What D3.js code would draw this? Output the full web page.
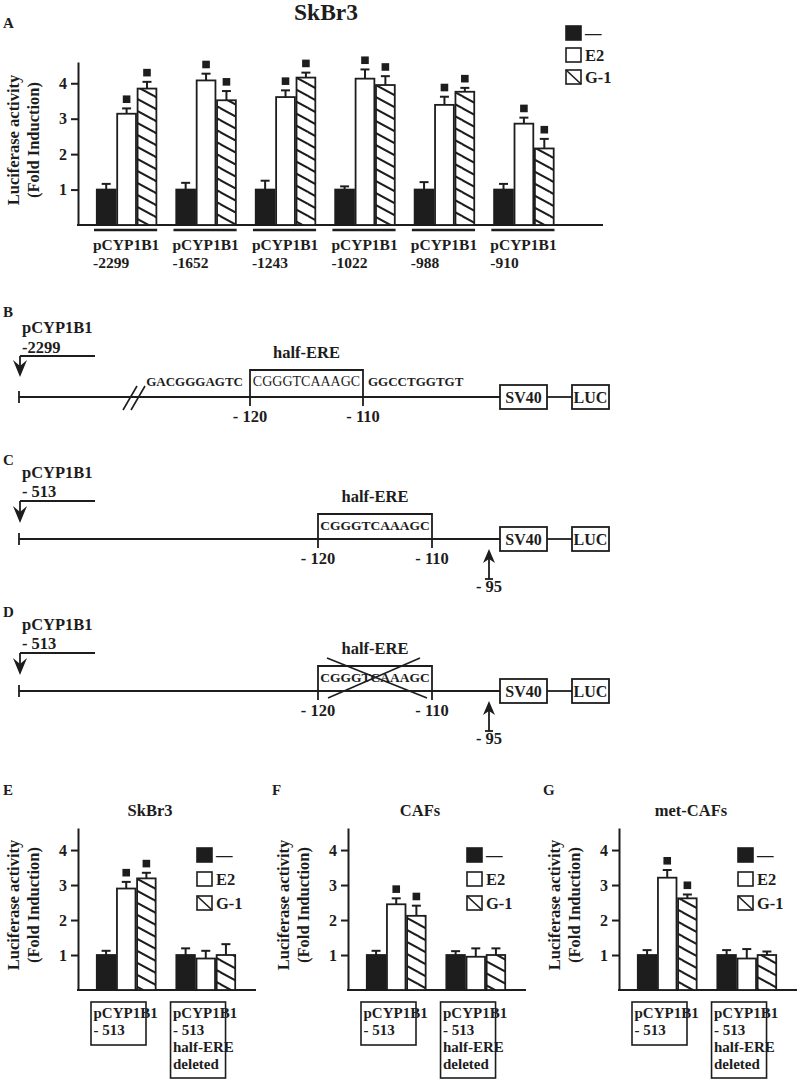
<!DOCTYPE html>
<html>
<head>
<meta charset="utf-8">
<title>pCYP1B1 luciferase</title>
<script src="https://cdn.jsdelivr.net/npm/d3@7"></script>
<style>
  body { margin: 0; background: #fff; }
  svg text { font-family: "Liberation Serif", "Times New Roman", serif; font-weight: bold; fill: #1d1d1d; }
</style>
</head>
<body>
<svg id="fig" width="797" height="1080"></svg>
<script>
// ---- data ----
var treatments = ["—", "E2", "G-1"];
var yTicks = [1, 2, 3, 4];

// panel A (SkBr3, deletion constructs)
var constructsA = ["-2299", "-1652", "-1243", "-1022", "-988", "-910"];
var ctrlA    = [1, 1, 1, 1, 1, 1];
var ctrlErrA = [0.16, 0.19, 0.25, 0.09, 0.21, 0.16];
var e2A      = [3.14, 4.08, 3.61, 4.13, 3.39, 2.86];
var e2ErrA   = [0.15, 0.19, 0.19, 0.26, 0.23, 0.17];
var g1A      = [3.85, 3.52, 4.16, 3.95, 3.76, 2.16];
var g1ErrA   = [0.19, 0.26, 0.14, 0.25, 0.11, 0.27];
var sigA     = [1, 1, 1, 1, 1, 1];

// panels E-G (-513 construct, intact vs half-ERE deleted)
var constructsEFG = [["pCYP1B1", "- 513"], ["pCYP1B1", "- 513", "half-ERE", "deleted"]];
var skbr3Ctrl = [1, 1],    skbr3CtrlErr = [0.12, 0.19];
var skbr3E2   = [2.9, 0.9], skbr3E2Err  = [0.19, 0.22];
var skbr3G1   = [3.19, 1.0], skbr3G1Err = [0.16, 0.31];
var cafsCtrl  = [1, 1],    cafsCtrlErr  = [0.12, 0.11];
var cafsE2    = [2.45, 0.95], cafsE2Err = [0.17, 0.24];
var cafsG1    = [2.12, 1.0], cafsG1Err  = [0.29, 0.19];
var metCtrl   = [1, 1],    metCtrlErr   = [0.14, 0.14];
var metE2     = [3.21, 0.9], metE2Err   = [0.22, 0.27];
var metG1     = [2.62, 1.0], metG1Err   = [0.11, 0.10];
var sigEFG    = [1, 0];

var INK = "#1d1d1d";
var svg = d3.select("#fig");

// hatch pattern for G-1 bars
var defs = svg.append("defs");
var hp = defs.append("pattern").attr("id", "hatch")
    .attr("patternUnits", "userSpaceOnUse").attr("width", 22).attr("height", 12);
hp.append("rect").attr("width", 22).attr("height", 12).attr("fill", "#fff");
hp.append("path").attr("d", "M-22,-12L44,24M0,12L22,24M0,-12L22,0M-22,0L0,12")
    .attr("stroke", INK).attr("stroke-width", 2);

function fillFor(i) { return i === 0 ? INK : (i === 1 ? "#fff" : "url(#hatch)"); }

function txt(g, x, y, s, size, anchor, weight) {
  return g.append("text").attr("x", x).attr("y", y).attr("font-size", size)
    .attr("text-anchor", anchor || "start").style("font-weight", weight || "bold").text(s);
}

function line(g, x1, y1, x2, y2, w) {
  return g.append("line").attr("x1", x1).attr("y1", y1).attr("x2", x2).attr("y2", y2)
    .attr("stroke", INK).attr("stroke-width", w || 2);
}

function yLabel(g, x, yc) {
  txt(g, 0, 0, "Luciferase activity", 16.5, "middle").attr("transform", "translate(" + x + "," + yc + ") rotate(-90)");
  txt(g, 0, 0, "(Fold Induction)", 16.5, "middle").attr("transform", "translate(" + (x + 20) + "," + yc + ") rotate(-90)");
}

function legend(g, x, y, gap) {
  treatments.forEach(function (t, i) {
    var yy = y + i * gap;
    g.append("rect").attr("x", x).attr("y", yy).attr("width", 15).attr("height", 14)
      .attr("fill", i === 0 ? INK : "#fff").attr("stroke", INK).attr("stroke-width", 1.6);
    if (i === 2) line(g, x, yy, x + 15, yy + 14, 1.6);
    txt(g, x + 19, yy + 12.5, t, 16.5);
  });
}

// generic grouped bar chart
function barChart(cfg) {
  var g = svg.append("g");
  var y = d3.scaleLinear().domain([0, cfg.yMax]).range([cfg.base, cfg.top]);
  var x = d3.scaleBand().domain(d3.range(cfg.n)).range([cfg.gx0, cfg.gx1]).paddingInner(cfg.pad).paddingOuter(0);
  var xs = d3.scaleBand().domain(d3.range(3)).range([0, x.bandwidth()]);

  var ax = g.append("g").attr("transform", "translate(" + cfg.axisX + ",0)")
    .call(d3.axisLeft(y).tickValues(yTicks).tickSize(7).tickPadding(4).tickSizeOuter(0).tickFormat(d3.format("d")));
  ax.attr("font-size", 16);
  ax.selectAll("path, line").attr("stroke", INK).attr("stroke-width", 2);
  line(g, cfg.axisX - 1, cfg.base, cfg.xEnd, cfg.base, 2);

  cfg.series.forEach(function (s, si) {
    d3.range(cfg.n).forEach(function (k) {
      var bx = x(k) + xs(si), bw = xs.bandwidth(), v = s.vals[k];
      var capY = y(v + s.errs[k]), cx = bx + bw / 2;
      line(g, cx, y(v), cx, capY, 2);
      line(g, cx - 4.5, capY, cx + 4.5, capY, 2);
      g.append("rect").attr("x", bx + 0.8).attr("y", y(v)).attr("width", bw - 1.6).attr("height", cfg.base - y(v))
        .attr("fill", fillFor(si)).attr("stroke", INK).attr("stroke-width", 1.8);
      if (si > 0 && cfg.sig[k]) {
        g.append("rect").attr("x", cx - 3.8).attr("y", capY - 13).attr("width", 7.6).attr("height", 7.6).attr("fill", INK);
      }
    });
  });
  return { g: g, x: x };
}

// ---- panel A ----
txt(svg, 326, 20, "SkBr3", 23.5, "middle");
txt(svg, 3, 28, "A", 15);
var A = barChart({ n: 6, yMax: 4.6, base: 225, top: 62, axisX: 78, xEnd: 603, gx0: 96, gx1: 554.5, pad: 0.23,
  sig: sigA,
  series: [{ vals: ctrlA, errs: ctrlErrA }, { vals: e2A, errs: e2ErrA }, { vals: g1A, errs: g1ErrA }] });
constructsA.forEach(function (c, k) {
  var x0 = A.x(k);
  line(A.g, x0 - 2, 230, x0 + A.x.bandwidth(), 230, 2.5);
  txt(A.g, x0 - 3, 250, "pCYP1B1", 15.5);
  txt(A.g, x0 - 3, 268, c, 15.5);
});
yLabel(svg, 19, 140);
legend(svg, 566, 26, 22);

// ---- promoter schematics (B, C, D) ----
function promoterArrow(g, arrowY, tipY) {
  line(g, 20, arrowY, 95, arrowY, 1.8);
  line(g, 20, arrowY, 20, tipY - 10, 1.8);
  g.append("path").attr("d", "M13," + (tipY - 17) + "L20," + tipY + "L27," + (tipY - 17) + "L20," + (tipY - 11) + "Z").attr("fill", INK);
}
function mainLine(g, y, xEnd) {
  line(g, 19, y, xEnd, y, 1.8);
  line(g, 19, y - 6, 19, y + 6, 1.8);
  g.append("rect").attr("x", 500).attr("y", y - 12).attr("width", 47).attr("height", 24)
    .attr("fill", "#fff").attr("stroke", INK).attr("stroke-width", 1.8);
  txt(g, 523.5, y + 5.5, "SV40", 16, "middle");
  line(g, 547, y, 572, y, 1.8);
  g.append("rect").attr("x", 572).attr("y", y - 12).attr("width", 37).attr("height", 24)
    .attr("fill", "#fff").attr("stroke", INK).attr("stroke-width", 1.8);
  txt(g, 590.5, y + 5.5, "LUC", 16, "middle");
}
function ereBox(g, L, R, top, y) {
  g.append("path").attr("d", "M" + L + "," + (y + 9) + "V" + top + "H" + R + "V" + (y + 9))
    .attr("fill", "none").attr("stroke", INK).attr("stroke-width", 1.8);
  txt(g, L, y + 25, "- 120", 16.5, "middle");
  txt(g, R, y + 25, "- 110", 16.5, "middle");
}
function upArrow(g, x, tipY, botY, lblY) {
  line(g, x, tipY + 8, x, botY, 1.8);
  line(g, x - 4, botY, x + 4, botY, 1.8);
  g.append("path").attr("d", "M" + (x - 6) + "," + (tipY + 14) + "L" + x + "," + tipY + "L" + (x + 6) + "," + (tipY + 14) + "L" + x + "," + (tipY + 10) + "Z").attr("fill", INK);
  txt(g, x, lblY, "- 95", 16.5, "middle");
}

// B
var gB = svg.append("g");
txt(gB, 3, 317, "B", 15);
txt(gB, 22, 333, "pCYP1B1", 16.5);
txt(gB, 22, 353, "-2299", 16.5);
promoterArrow(gB, 356, 377);
mainLine(gB, 397, 500);
line(gB, 123, 410, 137, 386, 1.6);
line(gB, 131, 410, 145, 386, 1.6);
ereBox(gB, 250, 363, 370, 397);
txt(gB, 306.5, 358, "half-ERE", 16.5, "middle");
txt(gB, 306.5, 386, "CGGGTCAAAGC", 14, "middle", "normal");
txt(gB, 243, 386, "GACGGGAGTC", 13, "end");
txt(gB, 368, 386, "GGCCTGGTGT", 13, "start");

// C and D
function panelCD(letter, y0, deleted) {
  var g = svg.append("g");
  var arrowY = y0 + 36, tipY = y0 + 58, mainY = y0 + 74;
  txt(g, 3, y0, letter, 15);
  txt(g, 22, y0 + 13, "pCYP1B1", 16.5);
  txt(g, 22, y0 + 32, "- 513", 16.5);
  promoterArrow(g, arrowY, tipY);
  mainLine(g, mainY, 500);
  ereBox(g, 318, 432, mainY - 25, mainY);
  txt(g, 375, mainY - 37, "half-ERE", 16.5, "middle");
  txt(g, 375, mainY - 9, "CGGGTCAAAGC", 13.5, "middle");
  if (deleted) {
    line(g, 327, mainY - 33, 427, mainY + 7, 1.6);
    line(g, 420, mainY - 33, 328, mainY + 7, 1.6);
  }
  upArrow(g, 489, mainY + 10, mainY + 40, mainY + 53);
}
panelCD("C", 465, false);
panelCD("D", 617, true);

// ---- panels E, F, G ----
function panelEFG(letter, letterX, title, axisX, ctrl, ctrlErr, e2, e2Err, g1, g1Err) {
  txt(svg, letterX, 795, letter, 15);
  txt(svg, axisX + 72, 816, title, 16.5, "middle");
  var P = barChart({ n: 2, yMax: 4.63, base: 990, top: 828, axisX: axisX, xEnd: axisX + 178,
    gx0: axisX + 18, gx1: axisX + 158, pad: 0.24, sig: sigEFG,
    series: [{ vals: ctrl, errs: ctrlErr }, { vals: e2, errs: e2Err }, { vals: g1, errs: g1Err }] });
  constructsEFG.forEach(function (lines, k) {
    var bx = P.x(k) - 5;
    P.g.append("rect").attr("x", bx).attr("y", 1002).attr("width", 55).attr("height", lines.length > 2 ? 76 : 43)
      .attr("fill", "none").attr("stroke", INK).attr("stroke-width", 1.6);
    lines.forEach(function (s, j) { txt(P.g, bx + 2.5, 1018 + j * 17, s, 15); });
  });
  yLabel(svg, axisX - 59, 905);
  legend(svg, axisX + 119, 848, 24);
}
panelEFG("E", 3, "SkBr3", 78, skbr3Ctrl, skbr3CtrlErr, skbr3E2, skbr3E2Err, skbr3G1, skbr3G1Err);
panelEFG("F", 272, "CAFs", 348, cafsCtrl, cafsCtrlErr, cafsE2, cafsE2Err, cafsG1, cafsG1Err);
panelEFG("G", 543, "met-CAFs", 619, metCtrl, metCtrlErr, metE2, metE2Err, metG1, metG1Err);
</script>
</body>
</html>
